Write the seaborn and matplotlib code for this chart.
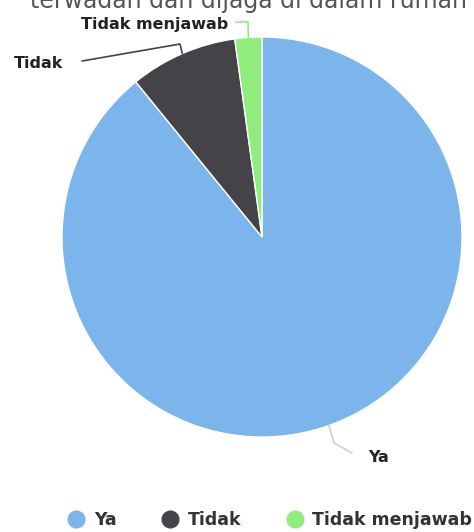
import numpy as np
import matplotlib
matplotlib.use("Agg")
import matplotlib.pyplot as plt
from matplotlib.lines import Line2D
import seaborn as sns

# ==============================
# Data
# ==============================
categories = ["Ya", "Tidak", "Tidak menjawab"]
counts = [41, 4, 1]
colors = ["#7cb5ec", "#434348", "#90ed7d"]
title = "terwadah dan dijaga di dalam rumah"

sns.set_theme(style="white")
plt.rcParams["font.family"] = ["DejaVu Sans"]

W, H = 474, 532
fig = plt.figure(figsize=(W / 100, H / 100), dpi=100)
ax = fig.add_axes([0, 0, 1, 1])

center = (262, H - 237)
radius = 200
wedges, _ = ax.pie(counts, colors=colors, startangle=90, counterclock=False,
                   center=center, radius=radius,
                   wedgeprops=dict(edgecolor="white", linewidth=1))
ax.set_xlim(0, W)
ax.set_ylim(0, H)
ax.axis("off")

# label layout (pixel coords from top): elbow point, line end, text anchor
layout = {
    "Ya": dict(elbow=(334, 443), end=(352, 453), text=(368, 457), ha="left"),
    "Tidak": dict(elbow=(180, 44), end=(82, 61), text=(63, 63), ha="right"),
    "Tidak menjawab": dict(elbow=(248, 22), end=(236, 22), text=(228, 24), ha="right"),
}

for w, name in zip(wedges, categories):
    mid = np.deg2rad((w.theta1 + w.theta2) / 2)
    ax_x = center[0] + radius * np.cos(mid)
    ax_y = center[1] + radius * np.sin(mid)
    lay = layout[name]
    xs = [ax_x, lay["elbow"][0], lay["end"][0]]
    ys = [ax_y, H - lay["elbow"][1], H - lay["end"][1]]
    ax.plot(xs, ys, color=w.get_facecolor() if name != "Ya" else "#c8d0d8",
            lw=1.2, solid_capstyle="round")
    ax.text(lay["text"][0], H - lay["text"][1], name, ha=lay["ha"], va="center",
            fontsize=11.5, fontweight="bold", color="#222222")

# title, mostly cut off at the top like the reference
fig.text(30 / W, 1 - 8 / H, title, ha="left", va="baseline",
         fontsize=17, color="#555555")

handles = [Line2D([], [], marker="o", linestyle="", markersize=12,
                  markerfacecolor=c, markeredgecolor=c) for c in colors]
fig.legend(handles, categories, loc="center", bbox_to_anchor=(270 / W, 1 - 520 / H),
           ncol=3, frameon=False, handlelength=1.0, handletextpad=0.5,
           columnspacing=2.6, prop=dict(weight="bold", size=12.5),
           labelcolor="#333333")

fig.savefig("out.png", dpi=100)
